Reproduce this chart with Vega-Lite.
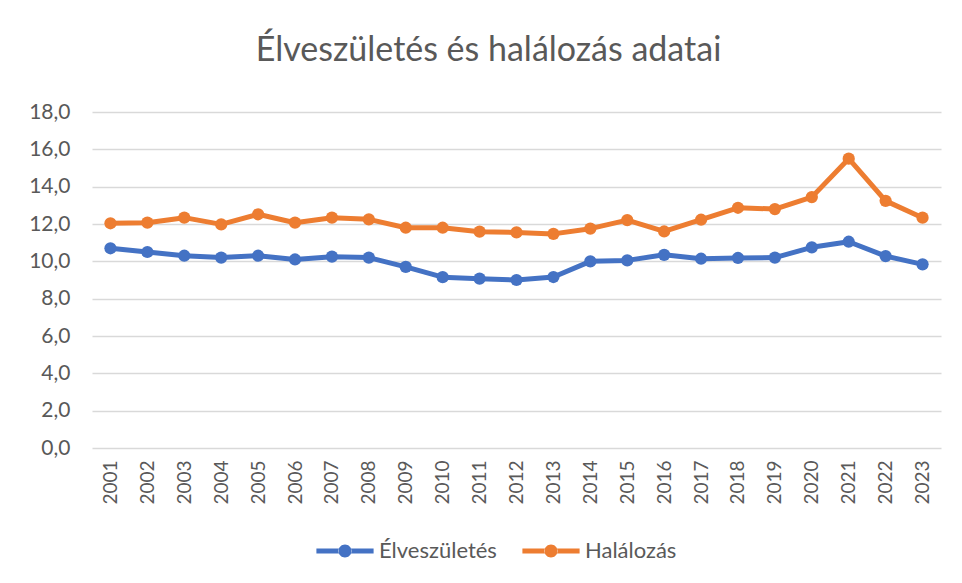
{
  "$schema": "https://vega.github.io/schema/vega-lite/v6.json",
  "autosize": "none",
  "width": 849,
  "height": 336,
  "padding": {"left": 92, "top": 112, "right": 21, "bottom": 135},
  "background": "white",
  "title": {
    "text": "Élveszületés és halálozás adatai",
    "font": "Lato",
    "fontSize": 34,
    "fontWeight": "normal",
    "color": "#595959",
    "anchor": "middle",
    "baseline": "alphabetic",
    "offset": 44,
    "dy": 38,
    "dx": -28
  },
  "data": {
    "values": [
      {"ev": "2001", "sorozat": "Élveszületés", "ertek": 10.7},
      {"ev": "2002", "sorozat": "Élveszületés", "ertek": 10.5},
      {"ev": "2003", "sorozat": "Élveszületés", "ertek": 10.3},
      {"ev": "2004", "sorozat": "Élveszületés", "ertek": 10.2},
      {"ev": "2005", "sorozat": "Élveszületés", "ertek": 10.3},
      {"ev": "2006", "sorozat": "Élveszületés", "ertek": 10.1},
      {"ev": "2007", "sorozat": "Élveszületés", "ertek": 10.25},
      {"ev": "2008", "sorozat": "Élveszületés", "ertek": 10.2},
      {"ev": "2009", "sorozat": "Élveszületés", "ertek": 9.7},
      {"ev": "2010", "sorozat": "Élveszületés", "ertek": 9.15},
      {"ev": "2011", "sorozat": "Élveszületés", "ertek": 9.07},
      {"ev": "2012", "sorozat": "Élveszületés", "ertek": 9.0},
      {"ev": "2013", "sorozat": "Élveszületés", "ertek": 9.16},
      {"ev": "2014", "sorozat": "Élveszületés", "ertek": 10.0},
      {"ev": "2015", "sorozat": "Élveszületés", "ertek": 10.05},
      {"ev": "2016", "sorozat": "Élveszületés", "ertek": 10.35},
      {"ev": "2017", "sorozat": "Élveszületés", "ertek": 10.14},
      {"ev": "2018", "sorozat": "Élveszületés", "ertek": 10.18},
      {"ev": "2019", "sorozat": "Élveszületés", "ertek": 10.2},
      {"ev": "2020", "sorozat": "Élveszületés", "ertek": 10.75},
      {"ev": "2021", "sorozat": "Élveszületés", "ertek": 11.05},
      {"ev": "2022", "sorozat": "Élveszületés", "ertek": 10.28},
      {"ev": "2023", "sorozat": "Élveszületés", "ertek": 9.84},
      {"ev": "2001", "sorozat": "Halálozás", "ertek": 12.04},
      {"ev": "2002", "sorozat": "Halálozás", "ertek": 12.07},
      {"ev": "2003", "sorozat": "Halálozás", "ertek": 12.34},
      {"ev": "2004", "sorozat": "Halálozás", "ertek": 11.98},
      {"ev": "2005", "sorozat": "Halálozás", "ertek": 12.52},
      {"ev": "2006", "sorozat": "Halálozás", "ertek": 12.07},
      {"ev": "2007", "sorozat": "Halálozás", "ertek": 12.34},
      {"ev": "2008", "sorozat": "Halálozás", "ertek": 12.25},
      {"ev": "2009", "sorozat": "Halálozás", "ertek": 11.8},
      {"ev": "2010", "sorozat": "Halálozás", "ertek": 11.8},
      {"ev": "2011", "sorozat": "Halálozás", "ertek": 11.59},
      {"ev": "2012", "sorozat": "Halálozás", "ertek": 11.55},
      {"ev": "2013", "sorozat": "Halálozás", "ertek": 11.47},
      {"ev": "2014", "sorozat": "Halálozás", "ertek": 11.75},
      {"ev": "2015", "sorozat": "Halálozás", "ertek": 12.21},
      {"ev": "2016", "sorozat": "Halálozás", "ertek": 11.6},
      {"ev": "2017", "sorozat": "Halálozás", "ertek": 12.23},
      {"ev": "2018", "sorozat": "Halálozás", "ertek": 12.87},
      {"ev": "2019", "sorozat": "Halálozás", "ertek": 12.8},
      {"ev": "2020", "sorozat": "Halálozás", "ertek": 13.44},
      {"ev": "2021", "sorozat": "Halálozás", "ertek": 15.5},
      {"ev": "2022", "sorozat": "Halálozás", "ertek": 13.24},
      {"ev": "2023", "sorozat": "Halálozás", "ertek": 12.34}
    ]
  },
  "encoding": {
    "x": {
      "field": "ev",
      "type": "ordinal",
      "scale": {"type": "point", "padding": 0.5},
      "axis": {
        "title": null,
        "labelAngle": -90,
        "labelAlign": "right",
        "labelBaseline": "middle",
        "labelFont": "Lato",
        "labelFontSize": 19,
        "labelColor": "#595959",
        "labelPadding": 12,
        "ticks": false,
        "domain": false,
        "grid": false
      }
    },
    "y": {
      "field": "ertek",
      "type": "quantitative",
      "scale": {"domain": [0, 18], "nice": false},
      "axis": {
        "title": null,
        "values": [0, 2, 4, 6, 8, 10, 12, 14, 16, 18],
        "labelExpr": "replace(format(datum.value, '.1f'), '.', ',')",
        "labelFont": "Lato",
        "labelFontSize": 21,
        "labelColor": "#595959",
        "labelPadding": 22,
        "ticks": false,
        "domain": false,
        "grid": true,
        "gridColor": "#D9D9D9",
        "gridWidth": 1.5
      }
    },
    "color": {
      "field": "sorozat",
      "type": "nominal",
      "scale": {"domain": ["Élveszületés", "Halálozás"], "range": ["#4472C4", "#ED7D31"]},
      "legend": {
        "title": null,
        "orient": "none",
        "direction": "horizontal",
        "legendX": 242,
        "legendY": 428,
        "symbolType": "M-4.4,-0.38L-0.93,-0.38L-0.93,0.38L-4.4,0.38Z M0.93,-0.38L4.4,-0.38L4.4,0.38L0.93,0.38Z M-1,0A1,1 0 1,0 1,0A1,1 0 1,0 -1,0Z",
        "symbolSize": 169,
        "symbolStrokeWidth": 0,
        "labelOffset": 23,
        "labelFont": "Lato",
        "labelFontSize": 22,
        "labelColor": "#595959",
        "columnPadding": 25
      }
    }
  },
  "layer": [
    {"mark": {"type": "line", "strokeWidth": 5, "strokeCap": "round", "strokeJoin": "round"}},
    {"mark": {"type": "point", "filled": true, "opacity": 1, "size": 150, "shape": "circle"}}
  ],
  "config": {
    "view": {"stroke": null}
  }
}
